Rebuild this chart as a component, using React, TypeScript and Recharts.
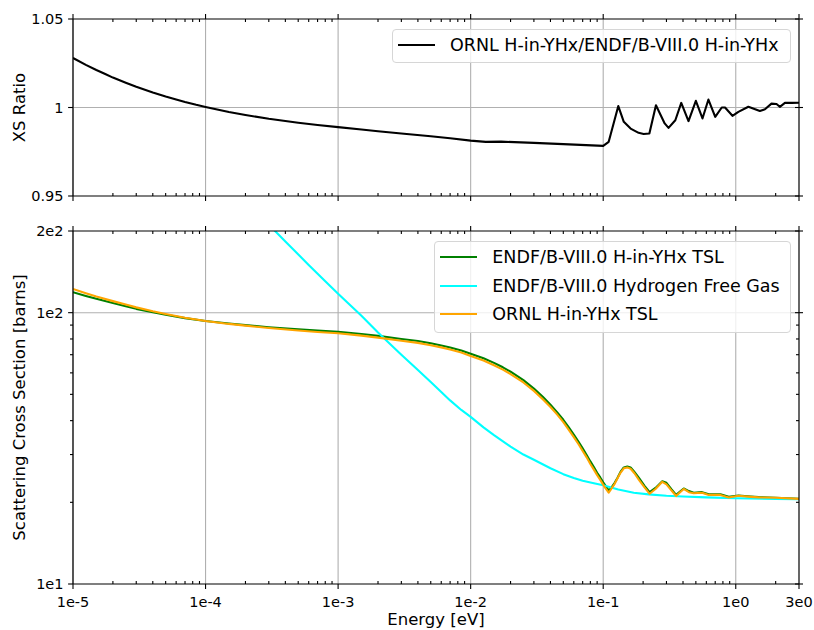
import React from 'react';
import { LineChart, Line, XAxis, YAxis, CartesianGrid, Legend } from 'recharts';

const FONT = '"DejaVu Sans", "Liberation Sans", sans-serif';

// ---- axis ticks ----
const energyMajor = [1e-5, 1e-4, 1e-3, 1e-2, 1e-1, 1, 3];
const energyMajorLabels = ['1e-5', '1e-4', '1e-3', '1e-2', '1e-1', '1e0', '3e0'];
const energyMinor = [
  2e-5, 3e-5, 4e-5, 5e-5, 6e-5, 7e-5, 8e-5, 9e-5,
  2e-4, 3e-4, 4e-4, 5e-4, 6e-4, 7e-4, 8e-4, 9e-4,
  2e-3, 3e-3, 4e-3, 5e-3, 6e-3, 7e-3, 8e-3, 9e-3,
  2e-2, 3e-2, 4e-2, 5e-2, 6e-2, 7e-2, 8e-2, 9e-2,
  2e-1, 3e-1, 4e-1, 5e-1, 6e-1, 7e-1, 8e-1, 9e-1,
  2,
];
const energyGrid = [1e-5, 1e-4, 1e-3, 1e-2, 1e-1, 1];

const ratioTicks = [0.95, 1, 1.05];
const ratioTickLabels = ['0.95', '1', '1.05'];

const xsMajor = [10, 100, 200];
const xsMajorLabels = ['1e1', '1e2', '2e2'];
const xsMinor = [20, 30, 40, 50, 60, 70, 80, 90];

// ---- ratio ORNL / ENDF ----
const ratioEnergy = [
  1e-5, 1.25e-5, 1.5e-5, 1.75e-5, 2e-5, 2.5e-5, 3e-5, 4e-5, 5e-5, 6e-5,
  7e-5, 8.5e-5, 1e-4, 1.5e-4, 2e-4, 3e-4, 5e-4, 7e-4, 1e-3, 1.5e-3,
  2e-3, 3e-3, 5e-3, 7e-3, 1e-2, 1.3e-2, 1.7e-2, 3e-2, 5e-2, 0.1,
  0.11, 0.13, 0.143, 0.161, 0.185, 0.202, 0.223, 0.25, 0.291, 0.311,
  0.35, 0.388, 0.44, 0.5, 0.561, 0.622, 0.7, 0.784, 0.83, 0.944,
  1.047, 1.245, 1.52, 1.66, 1.86, 2.03, 2.15, 2.35, 2.64, 3.0,
];
const ratioValue = [
  1.028, 1.0241, 1.0212, 1.0189, 1.0169, 1.014, 1.0117, 1.0085, 1.0062, 1.0045,
  1.0031, 1.0015, 1.0003, 0.9975, 0.9958, 0.9936, 0.9914, 0.9901, 0.9889, 0.9876,
  0.9866, 0.9853, 0.9838, 0.9826, 0.9813, 0.9806, 0.9807, 0.98, 0.9793, 0.9783,
  0.9806, 1.0008, 0.9919, 0.9881, 0.9857, 0.985, 0.9853, 1.0013, 0.991, 0.9885,
  0.9928, 1.0026, 0.9923, 1.0038, 0.9938, 1.0045, 0.9947, 1.0, 1.0, 0.9953,
  0.9975, 1.0004, 0.998, 0.999, 1.0022, 1.002, 1.0004, 1.0026, 1.0026, 1.0027,
];

// ---- scattering cross sections [barns] ----
const tslEnergy = [
  1e-5, 1.25e-5, 1.5e-5, 2e-5, 2.5e-5, 3e-5, 4e-5, 5e-5, 7e-5, 1e-4,
  1.5e-4, 2e-4, 3e-4, 5e-4, 7e-4, 1e-3, 1.5e-3, 2e-3, 3e-3, 4e-3,
  5e-3, 6e-3, 7e-3, 8.5e-3, 1e-2, 1.25e-2, 1.5e-2, 1.75e-2, 2e-2, 2.5e-2,
  3e-2, 3.5e-2, 4e-2, 4.5e-2, 5e-2, 5.5e-2, 6e-2, 6.5e-2, 7e-2, 7.5e-2,
  8e-2, 8.5e-2, 9e-2, 9.5e-2, 0.1, 0.105, 0.11, 0.115, 0.122, 0.128,
  0.135, 0.143, 0.152, 0.161, 0.172, 0.186, 0.205, 0.224, 0.248, 0.279,
  0.3, 0.328, 0.355, 0.38, 0.405, 0.443, 0.482, 0.557, 0.625, 0.766,
  0.885, 1.05, 1.3, 1.49, 2.0, 3.0,
];
const endfTslXs = [
  119.0, 115.3, 112.5, 108.5, 105.6, 103.3, 100.3, 98.2, 95.5, 93.2,
  91.2, 90.0, 88.4, 86.8, 85.9, 85.0, 83.4, 82.1, 80.0, 78.6,
  77.1, 75.7, 74.4, 72.6, 70.6, 67.9, 65.3, 62.9, 60.6, 56.4,
  52.5, 49.0, 45.8, 42.9, 40.3, 37.8, 35.5, 33.5, 31.6, 29.9,
  28.3, 27.0, 25.7, 24.7, 23.7, 22.9, 22.1, 22.6, 23.6, 24.6,
  25.9, 26.9, 27.1, 26.9, 25.9, 24.6, 23.0, 21.8, 22.6, 23.9,
  23.6, 22.3, 21.3, 21.9, 22.5, 22.0, 21.7, 21.8, 21.4, 21.4,
  20.95, 21.2, 21.0, 20.9, 20.8, 20.6,
];
const ornlTslXs = [
  122.3, 118.0, 114.8, 110.3, 107.1, 104.6, 101.2, 98.9, 95.8, 93.2,
  90.9, 89.6, 87.8, 86.0, 84.9, 84.0, 82.3, 80.9, 78.8, 77.4,
  75.9, 74.5, 73.1, 71.3, 69.3, 66.6, 64.0, 61.7, 59.4, 55.3,
  51.5, 48.0, 44.9, 42.1, 39.5, 37.0, 34.8, 32.8, 30.9, 29.3,
  27.7, 26.4, 25.2, 24.2, 23.2, 22.4, 21.7, 22.4, 23.4, 24.5,
  25.7, 26.7, 26.9, 26.6, 25.6, 24.2, 22.7, 21.5, 22.4, 23.8,
  23.3, 22.1, 21.1, 21.8, 22.4, 21.8, 21.6, 21.7, 21.3, 21.3,
  20.85, 21.15, 20.95, 20.85, 20.8, 20.6,
];
const freeGasEnergy = [
  2.5e-4, 3e-4, 4e-4, 6e-4, 8e-4, 1e-3, 1.5e-3, 2e-3, 3e-3, 4e-3,
  5e-3, 6e-3, 7e-3, 8.5e-3, 1e-2, 1.25e-2, 1.5e-2, 2e-2, 2.5e-2, 3e-2,
  4e-2, 5e-2, 6e-2, 7e-2, 8.5e-2, 0.1, 0.13, 0.17, 0.22, 0.3,
  0.4, 0.6, 1, 2, 3,
];
const freeGasXs = [
  231, 211, 183, 150, 130.5, 117.5, 97.5, 84.5, 70, 61.5,
  55.5, 51, 47.5, 43.8, 41.3, 37.8, 35.4, 32.1, 30.0, 28.7,
  26.7, 25.4, 24.6, 24.0, 23.5, 23.1, 22.3, 21.7, 21.4, 21.15,
  21.0, 20.85, 20.7, 20.6, 20.55,
];

const ratioRows = ratioEnergy.map((e, i) => ({ e, v: ratioValue[i] }));
const endfRows = tslEnergy.map((e, i) => ({ e, v: endfTslXs[i] }));
const ornlRows = tslEnergy.map((e, i) => ({ e, v: ornlTslXs[i] }));
const freeGasRows = freeGasEnergy.map((e, i) => ({ e, v: freeGasXs[i] }));

const energyTicks = [...energyMajor, ...energyMinor];
const xsTicks = [...xsMajor, ...xsMinor];

type Side = 'top' | 'bottom' | 'left' | 'right';

const TICK_FONT = 14.5;

// Tick renderer: majors point outward, minors inward (left side: outward)
const makeTick = (side: Side, majors: number[], labels: string[] | null) =>
  function TickMark(props: any) {
    const { x, y, payload } = props;
    const idx = majors.indexOf(payload.value);
    const major = idx >= 0;
    let c: number[];
    if (side === 'bottom') c = major ? [x, y, x, y + 4.9] : [x, y, x, y - 3];
    else if (side === 'top') c = major ? [x, y, x, y - 4.9] : [x, y, x, y + 3];
    else if (side === 'left') c = major ? [x, y, x - 4.9, y] : [x, y, x - 3, y];
    else c = major ? [x - 4, y, x + 4, y] : [x, y, x - 3, y];
    return (
      <g>
        <line x1={c[0]} y1={c[1]} x2={c[2]} y2={c[3]} stroke="#000" strokeWidth={1.1} />
        {major && labels && side === 'bottom' && (
          <text x={x} y={y + 22.7} textAnchor="middle" fill="#000"
            style={{ fontFamily: FONT, fontSize: TICK_FONT }}>{labels[idx]}</text>
        )}
        {major && labels && side === 'left' && (
          <text x={x - 9.5} y={y} textAnchor="end" dominantBaseline="central" fill="#000"
            style={{ fontFamily: FONT, fontSize: TICK_FONT }}>{labels[idx]}</text>
        )}
      </g>
    );
  };

const spine = { stroke: '#000', strokeWidth: 1.2 };

const yTitle = (text: string) => (p: any) => {
  const vb = p.viewBox;
  return (
    <text transform={`translate(${vb.x + 24.5}, ${vb.y + vb.height / 2}) rotate(-90)`}
      textAnchor="middle" fill="#000" style={{ fontFamily: FONT, fontSize: 16.5 }}>{text}</text>
  );
};

const xTitle = (text: string) => (p: any) => {
  const vb = p.viewBox;
  return (
    <text x={vb.x + vb.width / 2} y={vb.y + 41} textAnchor="middle" fill="#000"
      style={{ fontFamily: FONT, fontSize: 16.5 }}>{text}</text>
  );
};

const legendContent = (rowCenters: number[]) => (props: any) => {
  const payload = props.payload || [];
  return (
    <div style={{
      position: 'relative', width: '100%', height: '100%', boxSizing: 'border-box',
      border: '1px solid #d6d6d6', borderRadius: 4, background: 'rgba(255,255,255,0.8)',
      fontFamily: FONT, fontSize: 17.5, color: '#000',
    }}>
      {payload.map((p: any, i: number) => (
        <React.Fragment key={String(p.value)}>
          <div style={{ position: 'absolute', left: 5.3, top: rowCenters[i] - 2, width: 37, height: 2.1, background: p.color }} />
          <div style={{ position: 'absolute', left: 57.3, top: rowCenters[i] - 11, height: 20, lineHeight: '20px', whiteSpace: 'nowrap' }}>{p.value}</div>
        </React.Fragment>
      ))}
    </div>
  );
};

const energyAxisProps = {
  dataKey: 'e',
  type: 'number' as const,
  scale: 'log' as const,
  domain: [1e-5, 3],
  allowDataOverflow: true,
  ticks: energyTicks,
  interval: 0 as const,
  tickSize: 0,
  tickMargin: 0,
  tickLine: false,
  axisLine: spine,
};

function RatioPanel() {
  return (
    <LineChart width={814} height={210} margin={{ top: 0, right: 0, bottom: 0, left: 0 }}>
      <CartesianGrid stroke="#b0b0b0" strokeWidth={1.1} verticalValues={energyGrid} horizontalValues={[1]} />
      <XAxis {...energyAxisProps} height={14} tick={makeTick('bottom', energyMajor, null)} />
      <XAxis {...energyAxisProps} xAxisId="top" orientation="top" height={19} tick={makeTick('top', energyMajor, null)} />
      <YAxis type="number" domain={[0.95, 1.05]} allowDataOverflow ticks={ratioTicks} interval={0}
        width={73} tickSize={0} tickMargin={0} tickLine={false} axisLine={spine}
        tick={makeTick('left', ratioTicks, ratioTickLabels)} label={yTitle('XS Ratio')} />
      <YAxis yAxisId="right" orientation="right" type="number" domain={[0.95, 1.05]} allowDataOverflow
        ticks={ratioTicks} interval={0} width={15} tickSize={0} tickMargin={0} tickLine={false}
        axisLine={spine} tick={makeTick('right', ratioTicks, null)} />
      <Line data={ratioRows} dataKey="v" name="ORNL H-in-YHx/ENDF/B-VIII.0 H-in-YHx" stroke="#000"
        strokeWidth={2.1} strokeLinejoin="round" dot={false} isAnimationActive={false} />
      <Legend layout="vertical" verticalAlign="middle" align="center"
        wrapperStyle={{ left: 391.7, top: 29, width: 399, height: 34 }}
        content={legendContent([16])} />
    </LineChart>
  );
}

function CrossSectionPanel() {
  return (
    <LineChart width={814} height={420} margin={{ top: 0, right: 0, bottom: 0, left: 0 }}>
      <CartesianGrid stroke="#b0b0b0" strokeWidth={1.1} verticalValues={energyGrid} horizontalValues={[100]} />
      <XAxis {...energyAxisProps} height={46} tick={makeTick('bottom', energyMajor, energyMajorLabels)}
        label={xTitle('Energy [eV]')} />
      <XAxis {...energyAxisProps} xAxisId="top" orientation="top" height={21} tick={makeTick('top', energyMajor, null)} />
      <YAxis type="number" scale="log" domain={[10, 200]} allowDataOverflow ticks={xsTicks} interval={0}
        width={73} tickSize={0} tickMargin={0} tickLine={false} axisLine={spine}
        tick={makeTick('left', xsMajor, xsMajorLabels)} label={yTitle('Scattering Cross Section [barns]')} />
      <YAxis yAxisId="right" orientation="right" type="number" scale="log" domain={[10, 200]} allowDataOverflow
        ticks={xsTicks} interval={0} width={15} tickSize={0} tickMargin={0} tickLine={false}
        axisLine={spine} tick={makeTick('right', xsMajor, null)} />
      <Line data={endfRows} dataKey="v" name="ENDF/B-VIII.0 H-in-YHx TSL" stroke="#008000"
        strokeWidth={2.1} strokeLinejoin="round" dot={false} isAnimationActive={false} />
      <Line data={freeGasRows} dataKey="v" name="ENDF/B-VIII.0 Hydrogen Free Gas" stroke="#00ffff"
        strokeWidth={2.1} strokeLinejoin="round" dot={false} isAnimationActive={false} />
      <Line data={ornlRows} dataKey="v" name="ORNL H-in-YHx TSL" stroke="#ffa500"
        strokeWidth={2.1} strokeLinejoin="round" dot={false} isAnimationActive={false} />
      <Legend layout="vertical" verticalAlign="middle" align="center"
        wrapperStyle={{ left: 434, top: 31, width: 356.7, height: 91.7 }}
        content={legendContent([15.7, 44.7, 73.3])} />
    </LineChart>
  );
}

export default function App() {
  return (
    <div style={{ position: 'absolute', left: 0, top: 0, width: 814, height: 630, background: '#fff', overflow: 'hidden' }}>
      <div style={{ position: 'absolute', left: 0, top: 0 }}>
        <RatioPanel />
      </div>
      <div style={{ position: 'absolute', left: 0, top: 210 }}>
        <CrossSectionPanel />
      </div>
    </div>
  );
}
